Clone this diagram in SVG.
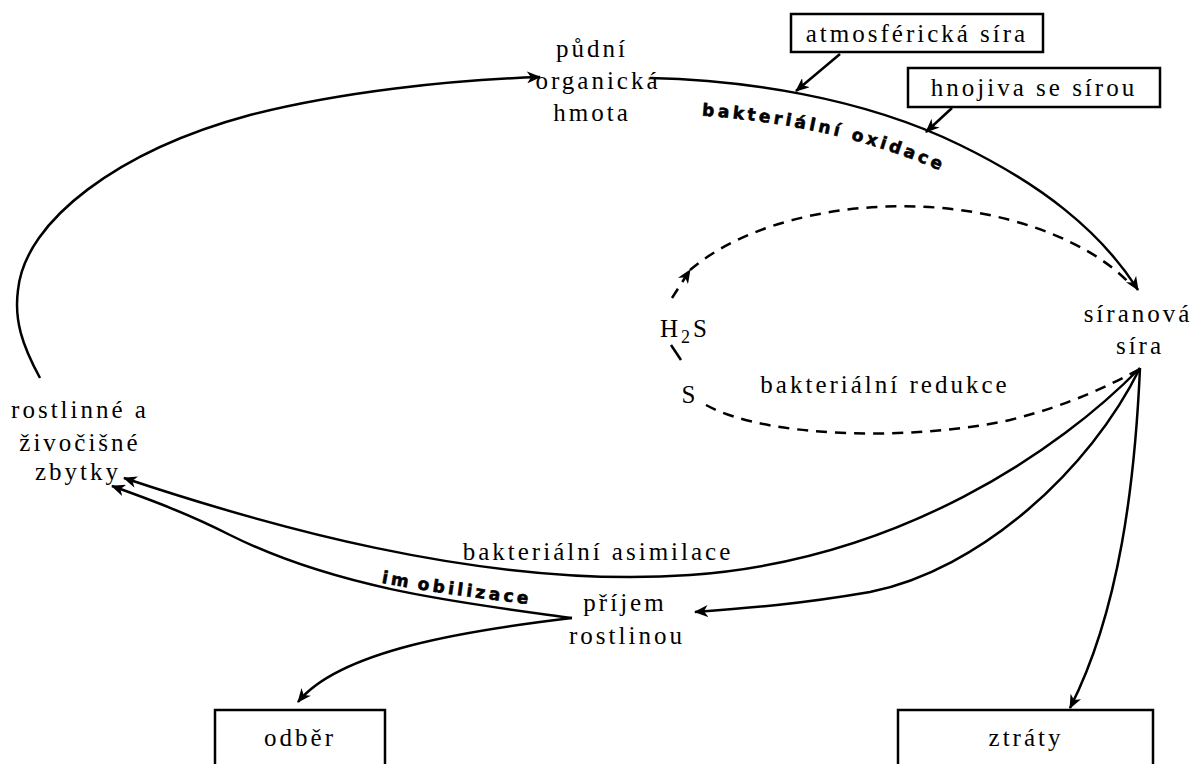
<svg xmlns="http://www.w3.org/2000/svg" width="1195" height="764" viewBox="0 0 1195 764">
<style>
.t{font-family:'Liberation Serif','Times New Roman','DejaVu Serif',serif;font-size:25px;letter-spacing:3px;fill:#000;text-anchor:middle}
.b{font-family:'DejaVu Sans','Liberation Sans',sans-serif;font-size:17px;font-weight:bold;letter-spacing:3.4px;fill:#000;stroke:#000;stroke-width:0.6}
.box{fill:#fff;stroke:#000;stroke-width:2.5}
.ln{fill:none;stroke:#000;stroke-width:2.5}
.ds{fill:none;stroke:#000;stroke-width:2.5;stroke-dasharray:11 8}
</style>
<defs>
<marker id="ah" viewBox="0 0 14 12" refX="13" refY="6" markerWidth="14" markerHeight="12" markerUnits="userSpaceOnUse" orient="auto">
<path d="M0,0 L14,6 L0,12 L4,6 z" fill="#000"/>
</marker>
<path id="oxp" d="M650,113 C740,115 850,129 945,173 C1020,208 1075,251 1110,306"/>
<path id="imp" d="M110,494 C150,508 190,522 235,542 C330,582 460,596 560,608"/>
</defs>
<g id="connectors">
<path class="ln" marker-end="url(#ah)" d="M40,378 C22,345 14,320 18,290 C25,220 120,150 250,115 C340,92 450,80 540,77"/>
<path class="ln" marker-end="url(#ah)" d="M650,78 C740,80 860,96 960,145 C1040,184 1100,230 1138,290"/>
<path class="ln" marker-end="url(#ah)" d="M840,54 L796,91"/>
<path class="ln" marker-end="url(#ah)" d="M952,108 L926,132"/>
<path class="ds" marker-end="url(#ah)" d="M672,298 L690,270"/>
<path class="ds" d="M690,270 C760,210 900,190 1010,220 C1070,236 1110,262 1130,284"/>
<path class="ln" d="M671,345 L681,360"/>
<path class="ds" d="M706,405 C770,440 920,440 1010,420 C1070,405 1110,385 1138,370"/>
<path class="ln" marker-end="url(#ah)" d="M1140,368 C1060,450 900,560 690,575 C480,590 250,520 124,478"/>
<path class="ln" marker-end="url(#ah)" d="M1140,368 C1090,470 980,570 870,592 C800,604 750,608 695,612"/>
<path class="ln" marker-end="url(#ah)" d="M1140,368 C1135,480 1120,610 1070,708"/>
<path class="ln" marker-end="url(#ah)" d="M572,618 C470,604 340,590 230,535 C185,512 145,498 112,486"/>
<path class="ln" marker-end="url(#ah)" d="M572,618 C470,630 340,650 298,702"/>
</g>
<g id="label-oxidace"><text class="b"><textPath href="#oxp" startOffset="52">bakteriální oxidace</textPath></text></g>
<g id="label-imobilizace"><text class="b"><textPath href="#imp" startOffset="286">im<tspan dx="6">obilizace</tspan></textPath></text></g>
<g id="node-pudni"><text class="t" x="592" y="57">půdní</text><text class="t" x="598" y="89">organická</text><text class="t" x="592" y="121">hmota</text></g>
<g id="node-atmos"><rect class="box" x="791" y="14" width="252" height="38"/><text class="t" x="917" y="42">atmosférická síra</text></g>
<g id="node-hnojiva"><rect class="box" x="908" y="68" width="252" height="39"/><text class="t" x="1034" y="96">hnojiva se sírou</text></g>
<g id="node-siranova"><text class="t" x="1138" y="322">síranová</text><text class="t" x="1140" y="354">síra</text></g>
<g id="node-h2s"><text class="t" x="685" y="337">H<tspan font-size="18" dy="6">2</tspan><tspan dy="-6">S</tspan></text></g>
<g id="node-s"><text class="t" x="690" y="403">S</text></g>
<g id="label-redukce"><text class="t" x="885" y="393">bakteriální redukce</text></g>
<g id="node-zbytky"><text class="t" x="80" y="418">rostlinné a</text><text class="t" x="80" y="451">živočišné</text><text class="t" x="78" y="480">zbytky</text></g>
<g id="label-asimilace"><text class="t" x="598" y="560">bakteriální asimilace</text></g>
<g id="node-prijem"><text class="t" x="625" y="611">příjem</text><text class="t" x="627" y="644">rostlinou</text></g>
<g id="node-odber"><rect class="box" x="215" y="710" width="170" height="60"/><text class="t" x="300" y="746">odběr</text></g>
<g id="node-ztraty"><rect class="box" x="898" y="710" width="255" height="60"/><text class="t" x="1026" y="746">ztráty</text></g>
</svg>
